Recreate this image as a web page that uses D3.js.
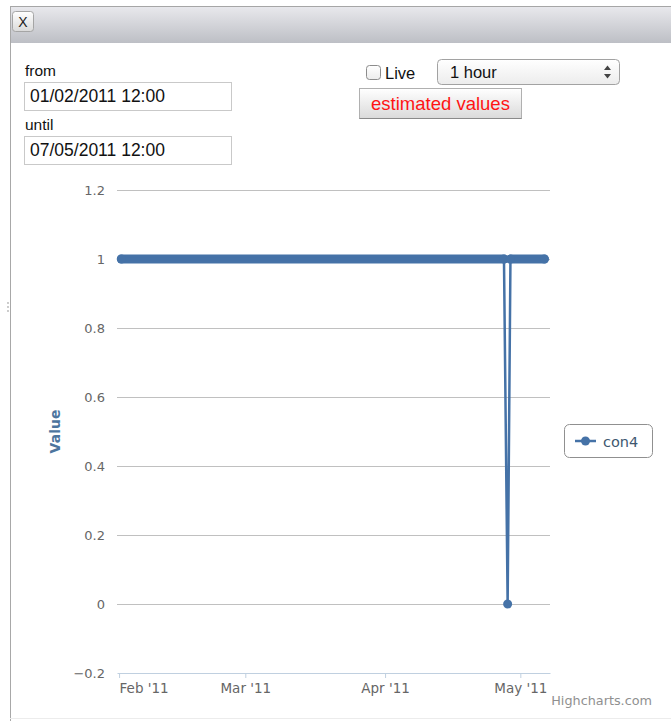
<!DOCTYPE html>
<html>
<head>
<meta charset="utf-8">
<script src="https://cdn.jsdelivr.net/npm/d3@7/dist/d3.min.js"></script>
<style>
  html, body { margin: 0; padding: 0; background: #fff; }
  svg { display: block; }
</style>
</head>
<body>
<svg id="chart" width="671" height="721"></svg>
<script>
// ---------------- data ----------------
const seriesName = "con4";
const seriesDates = ["2011-02-01T12:00Z", "2011-04-27T09:00Z", "2011-04-28T04:30Z", "2011-04-28T19:30Z", "2011-05-06T08:00Z"];
const seriesValues = [1, 1, 0, 1, 1];

const yTickValues = [-0.2, 0, 0.2, 0.4, 0.6, 0.8, 1, 1.2];
const yTickLabels = ["\u22120.2", "0", "0.2", "0.4", "0.6", "0.8", "1", "1.2"];

const xTickDates = ["2011-02-01T00:00Z", "2011-03-01T00:00Z", "2011-04-01T00:00Z", "2011-05-01T00:00Z"];
const xTickLabels = ["Feb '11", "Mar '11", "Apr '11", "May '11"];
const xDomain = ["2011-01-31T13:00Z", "2011-05-07T14:00Z"];

const fromValue = "01/02/2011 12:00";
const untilValue = "07/05/2011 12:00";
const intervalOption = "1 hour";

// ---------------- setup ----------------
const svg = d3.select("#chart");
const W = 671, H = 721;
const plot = { left: 117, right: 550, top: 190, bottom: 673 };
const color = "#4572A7";
const hcFont = "'DejaVu Sans', Verdana, sans-serif";
const uiFont = "'Liberation Sans', Arial, sans-serif";

const defs = svg.append("defs");
function grad(id, stops) {
  const g = defs.append("linearGradient").attr("id", id).attr("x1", 0).attr("y1", 0).attr("x2", 0).attr("y2", 1);
  stops.forEach(s => g.append("stop").attr("offset", s[0]).attr("stop-color", s[1]));
}
grad("titleGrad", [[0, "#e9e9ed"], [1, "#bdbfc5"]]);
grad("btnGrad", [[0, "#ffffff"], [1, "#dadada"]]);
grad("selGrad", [[0, "#ffffff"], [1, "#ececec"]]);

svg.append("rect").attr("width", W).attr("height", H).attr("fill", "#fff");

// dialog frame
svg.append("rect").attr("x", 10).attr("y", 6).attr("width", W - 10).attr("height", 37).attr("fill", "url(#titleGrad)");
svg.append("line").attr("x1", 10).attr("x2", W).attr("y1", 6.5).attr("y2", 6.5).attr("stroke", "#a6a6a6");
svg.append("line").attr("x1", 10.5).attr("x2", 10.5).attr("y1", 6).attr("y2", H).attr("stroke", "#a8a8a8");
svg.append("line").attr("x1", 10).attr("x2", W).attr("y1", 718.5).attr("y2", 718.5).attr("stroke", "#ececec");
// resize grip dots
[303, 307, 311].forEach(y => svg.append("circle").attr("cx", 8).attr("cy", y).attr("r", 0.9).attr("fill", "#b5b5b5"));

// close button
svg.append("rect").attr("x", 12.5).attr("y", 11.5).attr("width", 21).attr("height", 20).attr("rx", 3)
  .attr("fill", "url(#btnGrad)").attr("stroke", "#a5a5a5");
svg.append("text").attr("x", 23).attr("y", 27).attr("text-anchor", "middle")
  .attr("font-family", uiFont).attr("font-size", 14).attr("fill", "#222").text("X");

// form: from / until
const form = svg.append("g").attr("font-family", uiFont);
form.append("text").attr("x", 25).attr("y", 76).attr("font-size", 15.5).attr("fill", "#111").text("from");
form.append("rect").attr("x", 24.5).attr("y", 82.5).attr("width", 207).attr("height", 28).attr("fill", "#fff").attr("stroke", "#c9c9c9");
form.append("text").attr("x", 30).attr("y", 102).attr("font-size", 17.5).attr("fill", "#111").text(fromValue);
form.append("text").attr("x", 25).attr("y", 130).attr("font-size", 15.5).attr("fill", "#111").text("until");
form.append("rect").attr("x", 24.5).attr("y", 136.5).attr("width", 207).attr("height", 28).attr("fill", "#fff").attr("stroke", "#c9c9c9");
form.append("text").attr("x", 30).attr("y", 156).attr("font-size", 17.5).attr("fill", "#111").text(untilValue);

// Live checkbox
form.append("rect").attr("x", 366.5).attr("y", 65.5).attr("width", 14).attr("height", 14).attr("rx", 3)
  .attr("fill", "url(#selGrad)").attr("stroke", "#8c8c8c");
form.append("text").attr("x", 385).attr("y", 79).attr("font-size", 16.5).attr("fill", "#111").text("Live");

// select
form.append("rect").attr("x", 437.5).attr("y", 59.5).attr("width", 182).attr("height", 25).attr("rx", 4)
  .attr("fill", "url(#selGrad)").attr("stroke", "#a2a2a2");
form.append("text").attr("x", 450).attr("y", 78).attr("font-size", 16.5).attr("fill", "#111").text(intervalOption);
form.append("path").attr("d", "M604,70 L607.5,65.5 L611,70 Z M604,74 L607.5,78.5 L611,74 Z").attr("fill", "#444");

// estimated values button
form.append("rect").attr("x", 359.5).attr("y", 88.5).attr("width", 162).attr("height", 30)
  .attr("fill", "url(#btnGrad)").attr("stroke", "#b0b0b0");
form.append("line").attr("x1", 359.5).attr("x2", 521.5).attr("y1", 118.5).attr("y2", 118.5).attr("stroke", "#8a8a8a");
form.append("text").attr("x", 440.5).attr("y", 110).attr("text-anchor", "middle").attr("font-size", 18.5)
  .attr("fill", "#ff1414").text("estimated values");

// ---------------- chart ----------------
const parse = d3.isoParse;
const x = d3.scaleUtc().domain(xDomain.map(parse)).range([plot.left, plot.right]);
const y = d3.scaleLinear().domain([-0.2, 1.2]).range([plot.bottom, plot.top]);

// y axis with grid lines
const yAxis = d3.axisLeft(y)
  .tickValues(yTickValues)
  .tickFormat((d, i) => yTickLabels[i])
  .tickSize(-(plot.right - plot.left))
  .tickPadding(12);
const gy = svg.append("g").attr("transform", `translate(${plot.left},0)`).call(yAxis);
gy.select(".domain").remove();
gy.selectAll(".tick line").attr("stroke", "#c0c0c0").attr("stroke-width", 1)
  .filter(d => d === -0.2).remove();
gy.selectAll(".tick text").attr("font-family", hcFont).attr("font-size", 13).attr("fill", "#666");

// x axis
const xAxis = d3.axisBottom(x)
  .tickValues(xTickDates.map(parse))
  .tickFormat((d, i) => xTickLabels[i])
  .tickSize(5)
  .tickSizeOuter(0)
  .tickPadding(5);
const gx = svg.append("g").attr("transform", `translate(0,${plot.bottom})`).call(xAxis);
gx.select(".domain").attr("stroke", "#c0d0e0");
gx.selectAll(".tick line").attr("stroke", "#c0d0e0");
gx.selectAll(".tick text").attr("font-family", hcFont).attr("font-size", 13.5).attr("fill", "#666")
  .attr("text-anchor", (d, i) => i === 0 ? "start" : "middle");

// y axis title
svg.append("text")
  .attr("transform", `translate(60,${(plot.top + plot.bottom) / 2}) rotate(-90)`)
  .attr("text-anchor", "middle")
  .attr("font-family", hcFont).attr("font-size", 14).attr("font-weight", "bold")
  .attr("fill", "#4d759e").text("Value");

// series
const pts = seriesDates.map((d, i) => ({ t: parse(d), v: seriesValues[i] }));
const line = d3.line().x(d => x(d.t)).y(d => y(d.v));

// dense hourly markers appear as a thick band where the value stays constant
const bandSegs = [];
for (let i = 0; i < pts.length - 1; i++) {
  if (pts[i].v === pts[i + 1].v) bandSegs.push([pts[i], pts[i + 1]]);
}
svg.append("g").selectAll("path.band").data(bandSegs).join("path")
  .attr("d", line).attr("fill", "none").attr("stroke", color)
  .attr("stroke-width", 9).attr("stroke-linecap", "round");

svg.append("path").datum(pts).attr("d", line)
  .attr("fill", "none").attr("stroke", color).attr("stroke-width", 2.5).attr("stroke-linejoin", "round");

svg.append("g").selectAll("circle").data(pts).join("circle")
  .attr("cx", d => x(d.t)).attr("cy", d => y(d.v)).attr("r", 4.5).attr("fill", color);

// legend
const lg = svg.append("g");
lg.append("rect").attr("x", 564.5).attr("y", 424.5).attr("width", 88).attr("height", 33).attr("rx", 5)
  .attr("fill", "#fff").attr("stroke", "#909090");
lg.append("line").attr("x1", 575).attr("x2", 596).attr("y1", 441).attr("y2", 441).attr("stroke", color).attr("stroke-width", 2.5);
lg.append("circle").attr("cx", 585.5).attr("cy", 441).attr("r", 4.5).attr("fill", color);
lg.append("text").attr("x", 603).attr("y", 447).attr("font-family", hcFont).attr("font-size", 14.5)
  .attr("fill", "#3E576F").text(seriesName);

// credits
svg.append("text").attr("x", 652).attr("y", 705).attr("text-anchor", "end")
  .attr("font-family", hcFont).attr("font-size", 12.8).attr("fill", "#909090").text("Highcharts.com");
</script>
</body>
</html>
